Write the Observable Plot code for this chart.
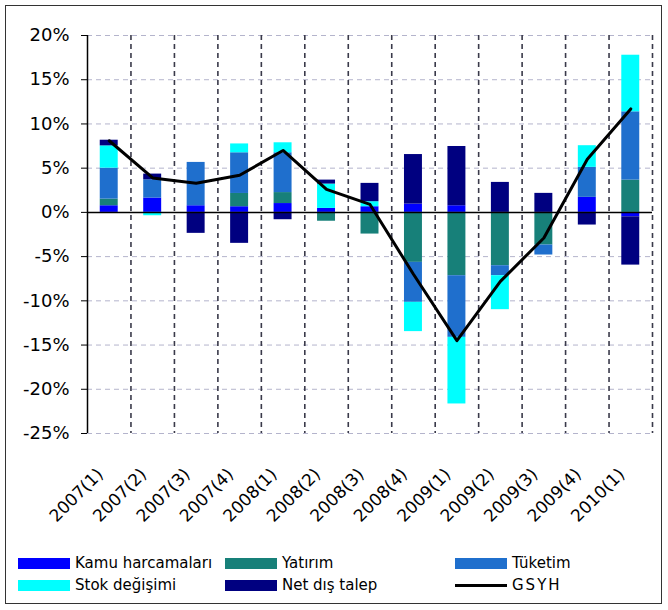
<!DOCTYPE html>
<html><head><meta charset="utf-8">
<script src="https://cdn.jsdelivr.net/npm/d3@7"></script>
<script src="https://cdn.jsdelivr.net/npm/@observablehq/plot@0.6"></script>
<style>
body{margin:0;background:#fff;}
#wrap{position:relative;width:668px;height:610px;font-family:"DejaVu Sans",sans-serif;background:#fff;}
#frame{position:absolute;left:5px;top:5px;width:657px;height:599px;border:1.5px solid #333;box-sizing:border-box;pointer-events:none;}
#chart{position:absolute;left:0;top:0;}
.leg{position:absolute;font-size:15px;display:flex;align-items:center;white-space:nowrap;color:#000;}
.sw{width:52px;height:11px;margin-right:5px;}
.ln{width:52px;height:3px;background:#000;margin-right:5px;}
</style></head><body>
<div id="wrap"><div id="chart"></div><div id="legend"></div><div id="frame"></div></div>
<script>
const categories = ["2007(1)","2007(2)","2007(3)","2007(4)","2008(1)","2008(2)","2008(3)","2008(4)","2009(1)","2009(2)","2009(3)","2009(4)","2010(1)"];
const seriesNames = ["Kamu harcamaları","Yatırım","Tüketim","Stok değişimi","Net dış talep"];
const seriesColors = ["#0000ff","#178079","#1f6fcd","#00ffff","#000080"];
const kamu    = [0.75, 1.62, 0.75, 0.64, 1.0, 0.45, 0.64, 0.94, 0.75, 0, 0, 1.7, -0.5];
const yatirim = [0.75, 0, 0, 1.5, 1.24, -1.0, -2.45, -5.65, -7.16, -6.03, -3.69, 0, 3.65];
const tuketim = [3.5, 2.07, 4.9, 4.6, 4.5, 0, 0, -4.52, -6.97, -1.13, -1.13, 3.39, 7.72];
const stok    = [2.52, -0.38, 0, 1.0, 1.13, 2.75, 0.57, -3.31, -7.53, -3.84, 0, 2.45, 6.4];
const netDis  = [0.64, 0.64, -2.37, -3.5, -0.83, 0.45, 2.07, 5.6, 6.7, 3.39, 2.15, -1.43, -5.46];
const gsyh    = [8.1, 3.9, 3.3, 4.2, 7.0, 2.6, 0.9, -7.0, -14.5, -7.8, -2.9, 6.0, 11.7];
const yTicks  = [20, 15, 10, 5, 0, -5, -10, -15, -20, -25];

const comps = [kamu, yatirim, tuketim, stok, netDis];
const rows = [];
seriesNames.forEach((s, k) => categories.forEach((c, i) => rows.push({i, cat: c, series: s, value: comps[k][i]})));
const linePts = gsyh.map((v, i) => ({i, v}));

const plot = Plot.plot({
  width: 668, height: 545,
  marginLeft: 87, marginRight: 16, marginTop: 35, marginBottom: 112,
  x: {type: "linear", domain: [0, 13], axis: null},
  y: {domain: [-25, 20], axis: null},
  color: {domain: seriesNames, range: seriesColors},
  style: {fontFamily: "DejaVu Sans", fontSize: "18px", background: "transparent", color: "#000"},
  marks: [
    Plot.ruleY(yTicks.filter(d => d !== 0), {stroke: "#b4b4cc", strokeDasharray: "5,4", strokeWidth: 1}),
    Plot.ruleX(d3.range(1, 14), {stroke: "#3a3a4a", strokeDasharray: "5,4", strokeWidth: 1.6}),
    Plot.rectY(rows, Plot.stackY({x1: d => d.i, x2: d => d.i + 1, y: "value", fill: "series", insetLeft: 12.75, insetRight: 12.75})),
    Plot.ruleY([0], {stroke: "#000", strokeWidth: 1.5}),
    Plot.ruleX([0], {stroke: "#000", strokeWidth: 1.5}),
    Plot.axisY(yTicks, {tickSize: 6, tickPadding: 12, tickFormat: d => d + "%", fontSize: 18, stroke: "#000"}),
    Plot.line(linePts, {x: d => d.i + 0.5, y: "v", stroke: "#000", strokeWidth: 3}),
    Plot.text(categories, {x: (d, i) => i + 0.5, frameAnchor: "bottom", dy: 38, dx: -9, rotate: -45, textAnchor: "end", lineAnchor: "middle", fontSize: 17, fill: "#000"})
  ]
});
document.getElementById("chart").appendChild(plot);

const legend = document.getElementById("legend");
const pos = [[18, 557], [225, 557], [455, 557], [18, 579], [225, 579]];
seriesNames.forEach((s, k) => {
  const d = document.createElement("div");
  d.className = "leg";
  d.style.left = pos[k][0] + "px"; d.style.top = (pos[k][1] - 3) + "px";
  d.innerHTML = `<div class="sw" style="background:${seriesColors[k]}"></div><span>${s}</span>`;
  legend.appendChild(d);
});
const g = document.createElement("div");
g.className = "leg";
g.style.left = "455px"; g.style.top = "576px";
g.innerHTML = `<div class="ln"></div><span style="letter-spacing:2px">GSYH</span>`;
legend.appendChild(g);
</script>
</body></html>
